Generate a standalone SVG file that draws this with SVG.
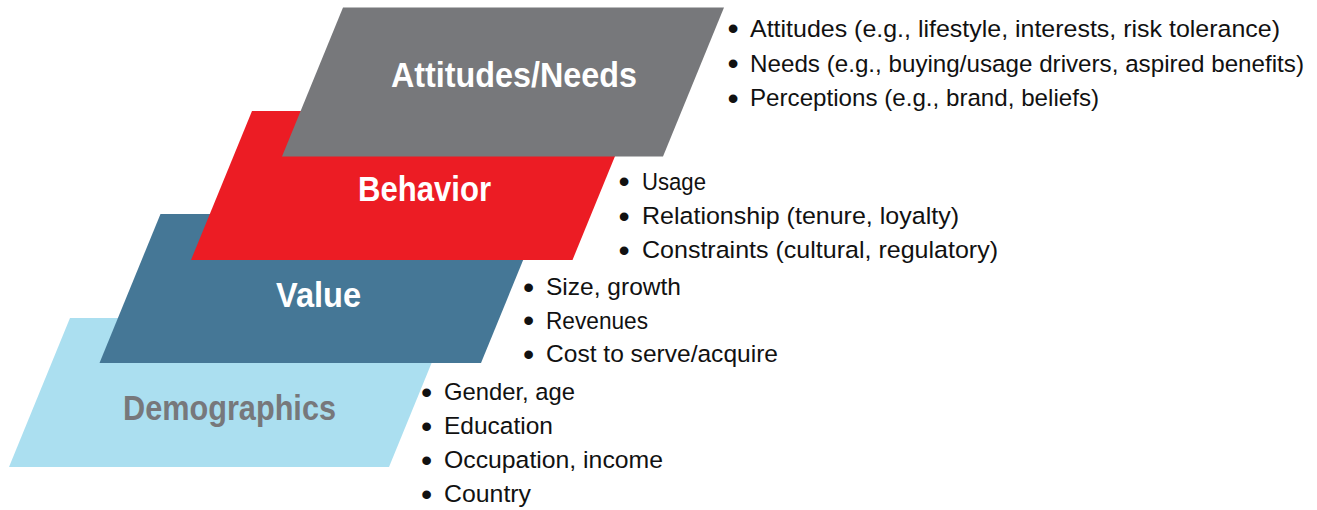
<svg xmlns="http://www.w3.org/2000/svg" width="1317" height="510" viewBox="0 0 1317 510">
  <style>
    .title { font-family: "Liberation Sans", Arial, sans-serif; font-weight: bold; font-size: 35px; fill: #ffffff; }
    .title.dark { fill: #77787b; }
    .item { font-family: "Liberation Sans", Arial, sans-serif; font-size: 24.5px; fill: #111111; }
    .dot { font-family: "Liberation Sans", Arial, sans-serif; font-size: 32px; fill: #111111; text-anchor: middle; }
  </style>
  <rect x="0" y="0" width="1317" height="510" fill="#ffffff"/>

  <!-- Layers, drawn bottom-up so each upper layer overlaps the one below -->
  <g id="demographics">
    <polygon points="70,318 450,318 389,467 9,467" fill="#abdff0"/>
    <text class="title dark" x="123" y="420" textLength="213" lengthAdjust="spacingAndGlyphs">Demographics</text>
  </g>
  <g id="value">
    <polygon points="160.5,214 542,214 481,363 99.5,363" fill="#457796"/>
    <text class="title" x="276" y="306.7" textLength="85" lengthAdjust="spacingAndGlyphs">Value</text>
  </g>
  <g id="behavior">
    <polygon points="252,111 633.5,111 572.5,260 191,260" fill="#ec1c24"/>
    <text class="title" x="358" y="200.7" textLength="133" lengthAdjust="spacingAndGlyphs">Behavior</text>
  </g>
  <g id="attitudes-needs">
    <polygon points="343,7.5 724,7.5 663,156.5 282,156.5" fill="#77787b"/>
    <text class="title" x="391" y="86.7" textLength="246" lengthAdjust="spacingAndGlyphs">Attitudes/Needs</text>
  </g>

  <!-- Bullet lists beside each layer -->
  <g id="attitudes-needs-list">
    <text class="dot" x="733" y="39.2">•</text>
    <text class="item" x="750" y="36.7" textLength="530" lengthAdjust="spacingAndGlyphs">Attitudes (e.g., lifestyle, interests, risk tolerance)</text>
    <text class="dot" x="733" y="74">•</text>
    <text class="item" x="750" y="71.5" textLength="554" lengthAdjust="spacingAndGlyphs">Needs (e.g., buying/usage drivers, aspired benefits)</text>
    <text class="dot" x="733" y="108.5">•</text>
    <text class="item" x="750" y="106" textLength="349" lengthAdjust="spacingAndGlyphs">Perceptions (e.g., brand, beliefs)</text>
  </g>
  <g id="behavior-list">
    <text class="dot" x="624" y="192">•</text>
    <text class="item" x="642" y="189.5" textLength="64" lengthAdjust="spacingAndGlyphs">Usage</text>
    <text class="dot" x="624" y="226.5">•</text>
    <text class="item" x="642" y="224" textLength="317" lengthAdjust="spacingAndGlyphs">Relationship (tenure, loyalty)</text>
    <text class="dot" x="624" y="260.5">•</text>
    <text class="item" x="642" y="258" textLength="356" lengthAdjust="spacingAndGlyphs">Constraints (cultural, regulatory)</text>
  </g>
  <g id="value-list">
    <text class="dot" x="528.5" y="297.5">•</text>
    <text class="item" x="546" y="295" textLength="135" lengthAdjust="spacingAndGlyphs">Size, growth</text>
    <text class="dot" x="528.5" y="331">•</text>
    <text class="item" x="546" y="328.5" textLength="102" lengthAdjust="spacingAndGlyphs">Revenues</text>
    <text class="dot" x="528.5" y="364.5">•</text>
    <text class="item" x="546" y="362" textLength="232" lengthAdjust="spacingAndGlyphs">Cost to serve/acquire</text>
  </g>
  <g id="demographics-list">
    <text class="dot" x="426.5" y="402.5">•</text>
    <text class="item" x="444" y="400" textLength="131" lengthAdjust="spacingAndGlyphs">Gender, age</text>
    <text class="dot" x="426.5" y="436.5">•</text>
    <text class="item" x="444" y="434" textLength="109" lengthAdjust="spacingAndGlyphs">Education</text>
    <text class="dot" x="426.5" y="470.5">•</text>
    <text class="item" x="444" y="468" textLength="219" lengthAdjust="spacingAndGlyphs">Occupation, income</text>
    <text class="dot" x="426.5" y="504.5">•</text>
    <text class="item" x="444" y="502" textLength="87" lengthAdjust="spacingAndGlyphs">Country</text>
  </g>

  <!-- No connectors in this diagram -->
  <g id="connectors"/>
</svg>
